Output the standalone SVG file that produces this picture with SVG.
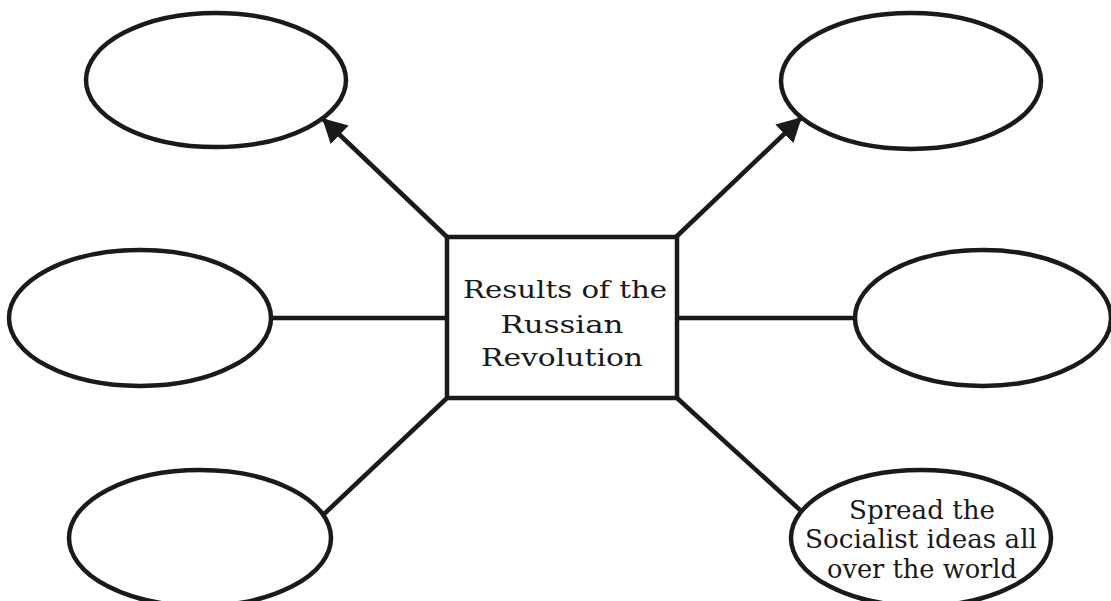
<svg xmlns="http://www.w3.org/2000/svg" width="1111" height="601" viewBox="0 0 1111 601">
  <style>
    .oval { fill: #ffffff; stroke: #1a1a1a; stroke-width: 4.5; }
    .box { fill: #ffffff; stroke: #1a1a1a; stroke-width: 4.5; }
    .link { stroke: #1a1a1a; stroke-width: 4.5; fill: none; }
    .label { font-family: "DejaVu Serif", "Liberation Serif", serif; fill: #1a1a1a; text-anchor: middle; }
  </style>
  <defs>
    <marker id="arrow" markerUnits="userSpaceOnUse" viewBox="0 0 24 26" markerWidth="24" markerHeight="26" refX="23" refY="13" orient="auto">
      <path d="M0,0 L24,13 L0,26 z" fill="#1a1a1a"/>
    </marker>
  </defs>
  <rect width="1111" height="601" fill="#ffffff"/>

  <!-- connectors from the central box -->
  <g id="connectors">
    <line class="link" x1="447" y1="237" x2="323" y2="119" marker-end="url(#arrow)"/>
    <line class="link" x1="676" y1="237" x2="801" y2="118" marker-end="url(#arrow)"/>
    <line class="link" x1="271" y1="318" x2="447" y2="318"/>
    <line class="link" x1="677" y1="318" x2="855" y2="318"/>
    <line class="link" x1="447" y1="398" x2="323" y2="515"/>
    <line class="link" x1="677" y1="398" x2="800" y2="510"/>
  </g>

  <!-- blank result ovals -->
  <g id="oval-top-left">
    <ellipse class="oval" cx="216" cy="80" rx="130" ry="67"/>
  </g>
  <g id="oval-top-right">
    <ellipse class="oval" cx="911" cy="81" rx="130" ry="68"/>
  </g>
  <g id="oval-mid-left">
    <ellipse class="oval" cx="140" cy="318" rx="131" ry="68"/>
  </g>
  <g id="oval-mid-right">
    <ellipse class="oval" cx="983" cy="318" rx="128" ry="68"/>
  </g>
  <g id="oval-bottom-left">
    <ellipse class="oval" cx="200" cy="538" rx="131" ry="68"/>
  </g>

  <!-- filled-in result oval -->
  <g id="oval-bottom-right">
    <ellipse class="oval" cx="921" cy="538" rx="130" ry="68"/>
    <text class="label" font-size="26" x="922" y="519" textLength="146" lengthAdjust="spacingAndGlyphs">Spread the</text>
    <text class="label" font-size="26" x="921" y="548" textLength="232" lengthAdjust="spacingAndGlyphs">Socialist ideas all</text>
    <text class="label" font-size="26" x="922" y="578" textLength="190" lengthAdjust="spacingAndGlyphs">over the world</text>
  </g>

  <!-- central topic -->
  <g id="center">
    <rect class="box" x="447" y="237" width="230" height="161"/>
    <text class="label" font-size="24" x="565" y="298" textLength="204" lengthAdjust="spacingAndGlyphs">Results of the</text>
    <text class="label" font-size="24" x="562" y="333" textLength="123" lengthAdjust="spacingAndGlyphs">Russian</text>
    <text class="label" font-size="24" x="562" y="366" textLength="162" lengthAdjust="spacingAndGlyphs">Revolution</text>
  </g>
</svg>
